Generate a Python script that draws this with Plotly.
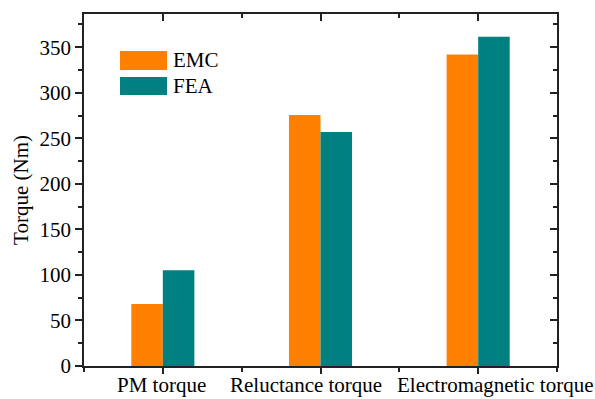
import plotly.graph_objects as go

# Torque components compared between the analytical model (EMC) and FEA
categories = ["PM torque", "Reluctance torque", "Electromagnetic torque"]
emc_values = [68, 275.5, 342]
fea_values = [105, 257, 361.5]
series_names = ["EMC", "FEA"]
series_colors = ["#FF8000", "#008080"]

FONT = "Times New Roman, Liberation Serif, serif"
idx = list(range(len(categories)))

fig = go.Figure()
for name, vals, col in zip(series_names, [emc_values, fea_values], series_colors):
    fig.add_trace(go.Bar(x=idx, y=vals, name=name, marker=dict(color=col, line=dict(width=0)),
                         showlegend=False))

# empty trace so the mirrored (inward-tick) top/right axes get drawn
fig.add_trace(go.Scatter(x=[], y=[], xaxis="x2", yaxis="y2", showlegend=False, hoverinfo="skip"))

xr = [-0.5, len(categories) - 0.5]
yr = [0, 386.5]
axis_line = dict(showline=True, linecolor="#222", linewidth=1.5, showgrid=False, zeroline=False)

fig.update_layout(
    width=595, height=399,
    margin=dict(l=84, r=38, t=14, b=33),
    paper_bgcolor="white", plot_bgcolor="white",
    barmode="group", bargap=0.6, bargroupgap=0,
    font=dict(family=FONT, size=21, color="black"),
    xaxis=dict(range=xr, tickvals=idx, ticktext=[""] * len(idx), ticks="outside",
               ticklen=6, tickwidth=1.5, tickcolor="#222", mirror=True,
               minor=dict(tick0=-0.5, dtick=0.5, ticks="outside", ticklen=4,
                          tickwidth=1.5, tickcolor="#222"),
               **axis_line),
    yaxis=dict(range=yr, dtick=50, ticks="outside", ticklen=7, tickwidth=1.5,
               tickcolor="#222", mirror=True,
               minor=dict(dtick=25, ticks="outside", ticklen=4, tickwidth=1.5, tickcolor="#222"),
               title=dict(text="Torque (Nm)", font=dict(family=FONT, size=21), standoff=5),
               tickfont=dict(family=FONT, size=21),
               **axis_line),
    xaxis2=dict(overlaying="x", side="top", anchor="y", range=xr, tickvals=idx,
                showticklabels=False, ticks="inside", ticklen=7, tickwidth=1.5,
                tickcolor="#222", showline=False, showgrid=False, zeroline=False,
                minor=dict(tick0=-0.5, dtick=1, ticks="inside", ticklen=4,
                           tickwidth=1.5, tickcolor="#222")),
    yaxis2=dict(overlaying="y", side="right", anchor="x", range=yr, dtick=50,
                showticklabels=False, ticks="inside", ticklen=7, tickwidth=1.5,
                tickcolor="#222", showline=False, showgrid=False, zeroline=False,
                minor=dict(dtick=25, ticks="inside", ticklen=4, tickwidth=1.5, tickcolor="#222")),
)

# category labels under the axis
label_shifts = [-1, -15, 17]
for i, (cat, sh) in enumerate(zip(categories, label_shifts)):
    fig.add_annotation(x=i, y=0, xref="x", yref="paper", text=cat, showarrow=False,
                       yanchor="top", yshift=-5, xshift=sh,
                       font=dict(family=FONT, size=21, color="black"))

# legend block: colour swatches with labels
legend_rows = [(0.841, 0.895), (0.770, 0.821)]
for (y0, y1), name, col in zip(legend_rows, series_names, series_colors):
    fig.add_shape(type="rect", xref="paper", yref="paper", x0=0.0761, x1=0.1755,
                  y0=y0, y1=y1, fillcolor=col, line=dict(width=0))
    fig.add_annotation(xref="paper", yref="paper", x=0.184, y=(y0 + y1) / 2,
                       text=name, showarrow=False, xanchor="left", yanchor="middle",
                       font=dict(family=FONT, size=21, color="black"))

fig.write_html("out.html")
